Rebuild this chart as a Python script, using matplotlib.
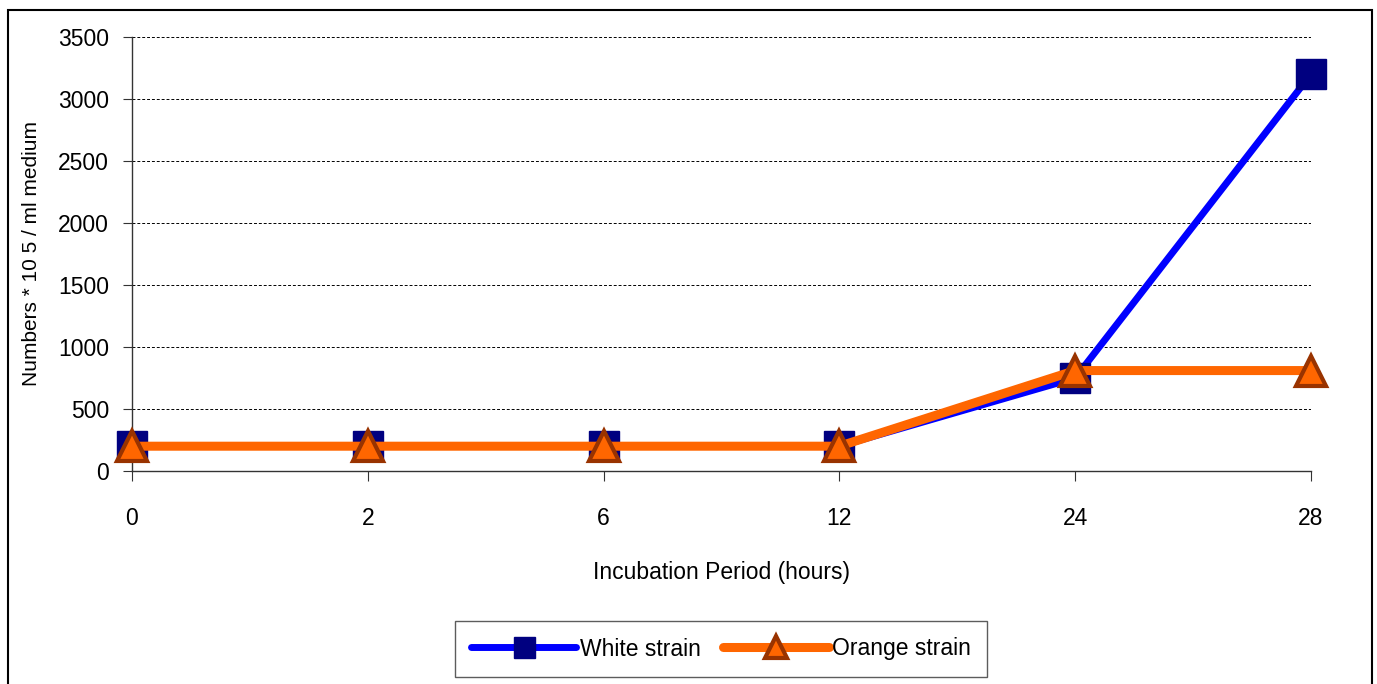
import matplotlib.pyplot as plt
from matplotlib.patches import Rectangle

plt.rcParams['font.family'] = ['Liberation Sans', 'DejaVu Sans']

# data
hours = ['0', '2', '6', '12', '24', '28']
white_strain = [200, 200, 200, 200, 750, 3200]
orange_strain = [200, 200, 200, 200, 810, 810]

fig = plt.figure(figsize=(13.77, 6.84), dpi=100)
ax = fig.add_axes([132 / 1377, 1 - 471 / 684, (1311 - 132) / 1377, (471 - 37) / 684])

x = list(range(len(hours)))
ax.plot(x, white_strain, color='#0000FF', lw=5, marker='s', ms=21,
        mfc='#000080', mec='#000080', label='White strain', zorder=3,
        solid_capstyle='round', clip_on=False)
ax.plot(x, orange_strain, color='#FF6600', lw=6.5, marker='^', ms=22,
        mfc='#FF6600', mec='#993300', mew=3, label='Orange strain', zorder=4,
        solid_capstyle='round', clip_on=False)

ax.set_xlim(0, len(hours) - 1)
ax.set_ylim(0, 3500)
ax.set_xticks(x)
ax.set_xticklabels(hours)
ax.set_yticks(range(0, 3501, 500))
ax.yaxis.grid(True, color='black', ls=(0, (3, 2)), lw=0.7)
ax.set_axisbelow(True)

for s in ['top', 'right']:
    ax.spines[s].set_visible(False)
for s in ['left', 'bottom']:
    ax.spines[s].set_color('#333333')
    ax.spines[s].set_linewidth(1)

fs = 16.5
ax.tick_params(axis='x', length=7, pad=19, labelsize=fs, color='#333333')
ax.tick_params(axis='y', length=6.5, pad=10, labelsize=fs, color='#333333')

ax.set_xlabel('Incubation Period (hours)', fontsize=fs, labelpad=22)
ax.set_ylabel('Numbers * 10 5 / ml medium', fontsize=15, labelpad=12)

leg = fig.legend(loc='center', bbox_to_anchor=(721 / 1377, 1 - 649 / 684),
                 ncol=2, fontsize=fs, frameon=True, fancybox=False,
                 handlelength=4.6, handletextpad=0.15, columnspacing=1.0,
                 borderpad=0.7, markerscale=0.72)
leg.get_frame().set_edgecolor('#333333')
leg.get_frame().set_linewidth(1)

# outer chart border
fig.patches.append(Rectangle((8 / 1377, -0.05), (1372 - 8) / 1377, 1.05 - 10 / 684,
                             transform=fig.transFigure, fill=False,
                             edgecolor='black', lw=1.5))

fig.savefig('out.png', dpi=100)
